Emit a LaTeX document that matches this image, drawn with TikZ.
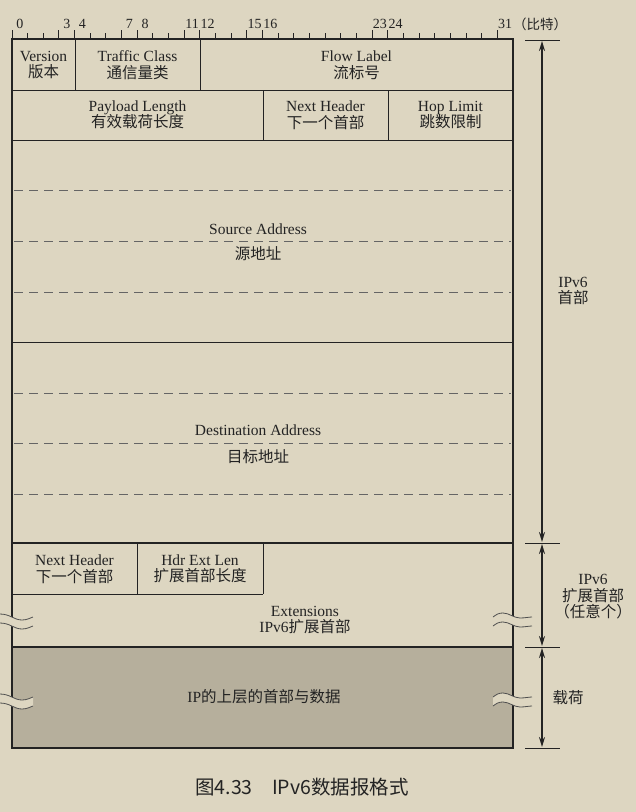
\documentclass[tikz,border=0pt]{standalone}
\usepackage{fontspec}
\setmainfont{Liberation Serif}
\newfontfamily\cjk{Noto Sans CJK SC}
\usetikzlibrary{positioning,arrows.meta}
\definecolor{paper}{RGB}{221,214,193}
\definecolor{payfill}{RGB}{182,175,156}
\definecolor{ink}{RGB}{35,35,35}

\begin{document}
\begin{tikzpicture}[x=1pt,y=-1pt,
	every node/.style={inner sep=0pt,text=ink},
	cell/.style={align=center,font=\fontsize{15.5}{16.5}\selectfont},
	frame/.style={draw=ink,line width=2.8pt},
	rule/.style={draw=ink,line width=1pt},
	dashrow/.style={draw=ink!70,line width=1pt,dash pattern=on 9pt off 6pt},
	span/.style={draw=ink,line width=1.7pt,{Stealth[length=10pt,width=6pt]}-{Stealth[length=10pt,width=6pt]}},
	wavy/.style={draw=ink!80,line width=0.8pt}]

		\fill[paper] (0,0) rectangle (636,812);
		\useasboundingbox (0,0) rectangle (636,812);

		%bit ruler
		\foreach \k in {0,...,31}
			\draw[rule] ({12+15.656*\k},39) -- ++(0,-6);
		\foreach \k in {0,3,4,7,8,11,12,15,16,23,24,31}{
			\draw[rule] ({12+15.656*\k},39) -- ++(0,-9);
			\node[font=\fontsize{14}{14}\selectfont] at ({12+15.656*(\k+0.5)},24) {\k};
		}
		\node[font=\cjk\fontsize{13.5}{14}\selectfont] (unit) at (540,24) {（比特）};

		%payload fill
		\fill[payfill] (12,647) rectangle (513,748);

		%fixed header
		\draw[rule] (12,90) -- (513,90);
		\draw[rule] (12,140) -- (513,140);
		\draw[rule] (12,342) -- (513,342);
		\draw[rule] (75,39) -- (75,90);
		\draw[rule] (200,39) -- (200,90);
		\draw[rule] (263,90) -- (263,140);
		\draw[rule] (388,90) -- (388,140);
		\foreach \y in {190,241,292,393,443,494}
			\draw[dashrow] (14,\y) -- (511,\y);

		%extension header
		\draw[rule] (137,543) -- (137,594);
		\draw[rule] (263,543) -- (263,594);
		\draw[rule] (12,594) -- (263,594);

		%outer frame
		\draw[frame] (12,543) -- (513,543);
		\draw[frame] (12,647) -- (513,647);
		\draw[frame] (12,39) rectangle (513,748);

		%break marks, left
		\foreach \y in {614,694}{
			\begin{scope}[shift={(0,\y)}]
				\fill[paper] (0,0) .. controls (10,0) and (14,6) .. (22,6) .. controls (27,6) and (30,4) .. (33,3)
					-- (33,12) .. controls (30,13) and (27,15) .. (22,15) .. controls (14,15) and (10,9) .. (0,9) -- cycle;
				\draw[wavy] (0,0) .. controls (10,0) and (14,6) .. (22,6) .. controls (27,6) and (30,4) .. (33,3);
				\draw[wavy] (0,9) .. controls (10,9) and (14,15) .. (22,15) .. controls (27,15) and (30,13) .. (33,12);
			\end{scope}
		}

		%break marks, right
		\foreach \y in {617,697}{
			\begin{scope}[shift={(493,\y)}]
				\fill[paper] (0,0) .. controls (4,-3) and (6,-4) .. (10,-4) .. controls (16,-4) and (21,1) .. (27,1) .. controls (32,1) and (36,0) .. (39,0)
					-- (39,9) .. controls (36,9) and (32,10) .. (27,10) .. controls (21,10) and (16,5) .. (10,5) .. controls (6,5) and (4,6) .. (0,9) -- cycle;
				\draw[wavy] (0,0) .. controls (4,-3) and (6,-4) .. (10,-4) .. controls (16,-4) and (21,1) .. (27,1) .. controls (32,1) and (36,0) .. (39,0);
				\draw[wavy] (0,9) .. controls (4,6) and (6,5) .. (10,5) .. controls (16,5) and (21,10) .. (27,10) .. controls (32,10) and (36,9) .. (39,9);
			\end{scope}
		}

		%field labels
		\node[cell] (ver) at (43.5,65) {Version\\{\cjk 版本}};
		\node[cell] (tclass) at (137.5,65) {Traffic Class\\{\cjk 通信量类}};
		\node[cell] (flow) at (356.5,65) {Flow Label\\{\cjk 流标号}};
		\node[cell] (plen) at (137.5,115) {Payload Length\\{\cjk 有效载荷长度}};
		\node[cell] (nxt) at (325.5,115) {Next Header\\{\cjk 下一个首部}};
		\node[cell] (hop) at (450.5,115) {Hop Limit\\{\cjk 跳数限制}};
		\node[cell] (src) at (258,229) {Source Address};
		\node[cell] (srczh) at (258,254) {\cjk 源地址};
		\node[cell] (dst) at (258,430) {Destination Address};
		\node[cell] (dstzh) at (258,457) {\cjk 目标地址};
		\node[cell] (extnxt) at (74.5,569) {Next Header\\{\cjk 下一个首部}};
		\node[cell] (extlen) at (200,569) {Hdr Ext Len\\{\cjk 扩展首部长度}};
		\node[cell] (ext) at (305,620) {Extensions\\IPv6{\cjk 扩展首部}};
		\node[cell] (data) at (264,697) {IP{\cjk 的上层的首部与数据}};

		%right spans
		\coordinate (hdrtop) at (542,40);
		\coordinate (hdrbot) at (542,543);
		\coordinate (extbot) at (542,647);
		\coordinate (paybot) at (542,748);
		\foreach \y in {40,543,647,748}
			\draw[rule] (525,\y) -- (560,\y);
		\draw[span,shorten <=1pt,shorten >=1pt] (hdrtop) -- (hdrbot);
		\draw[span,shorten <=1pt,shorten >=1pt] (hdrbot) -- (extbot);
		\draw[span,shorten <=1pt,shorten >=1pt] (extbot) -- (paybot);
		\node[cell] (hdrlbl) at (573,291) {IPv6\\{\cjk 首部}};
		\node[cell] (extlbl) at (593,597) {IPv6\\{\cjk 扩展首部}\\{\cjk （任意个）}};
		\node[cell] (paylbl) at (568,698) {\cjk 载荷};

		%caption
		\node[font=\cjk\fontsize{19.5}{21}\selectfont] (cap) at (302,787) {图4.33\quad IPv6数据报格式};

\end{tikzpicture}
\end{document}
